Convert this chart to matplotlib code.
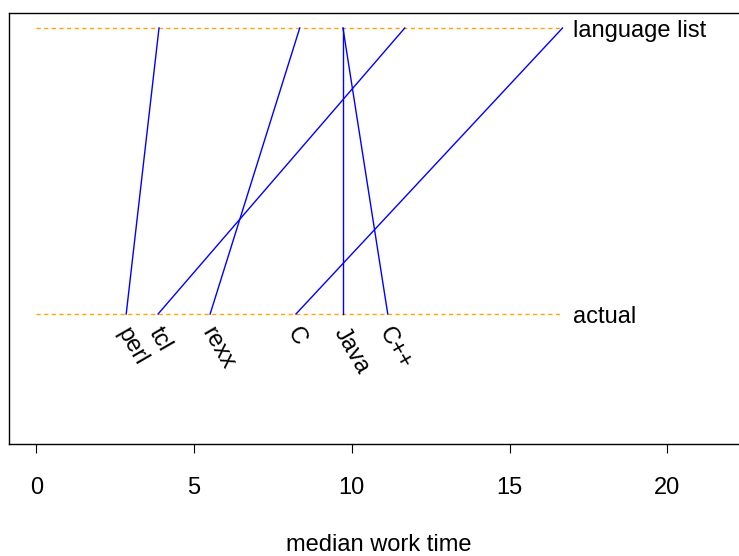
import matplotlib
matplotlib.use('Agg')
import matplotlib.pyplot as plt

# languages and median work times
languages = ['perl', 'tcl', 'rexx', 'C', 'Java', 'C++']
actual = [2.85, 3.86, 5.51, 8.23, 9.72, 11.14]
language_list = [3.89, 11.68, 8.35, 16.68, 9.72, 9.72]
row_labels = ['actual', 'language list']
xticks = [0, 5, 10, 15, 20]

plt.rcParams['font.family'] = ['Liberation Sans', 'DejaVu Sans']
plt.rcParams['font.size'] = 17

W, H = 739, 556
fig = plt.figure(figsize=(W / 100, H / 100), dpi=100)
# plot region in pixels: left 9, right 749, top 13, bottom 444
ax = fig.add_axes([9 / W, 1 - 444 / H, 740 / W, (444 - 13) / H])

y_act, y_list = 0, 1
line_end = 16.6

# dashed reference lines
for yy in (y_act, y_list):
    ax.plot([0, line_end], [yy, yy], color='orange', lw=1.0, dashes=(3, 2.5))

# connecting segments
for a, l in zip(actual, language_list):
    ax.plot([a, l], [y_act, y_list], color='blue', lw=1.0)

# row labels on the right
for yy, lab in zip((y_act, y_list), row_labels):
    ax.annotate(lab, (17.0, yy), xytext=(0, -6.5), textcoords='offset points',
                ha='left', va='baseline', fontsize=17)

# rotated language names under the bottom line
for a, name in zip(actual, languages):
    ax.annotate(name, (a, y_act), xytext=(4, -7), textcoords='offset points',
                rotation=-60, rotation_mode='anchor', ha='left', va='top', fontsize=17)

ax.set_xlim(-0.865, 22.59)
ax.set_ylim(-0.4545, 1.0524)
ax.set_xticks(xticks)
ax.set_xticklabels([str(t) for t in xticks])
ax.set_yticks([])
ax.tick_params(axis='x', length=6.5, width=0.8, pad=17, labelsize=17)
for sp in ax.spines.values():
    sp.set_linewidth(1.0)

fig.text(379 / W, 0, 'median work time', ha='center', va='bottom', fontsize=17)

fig.savefig('out.png', dpi=100)
